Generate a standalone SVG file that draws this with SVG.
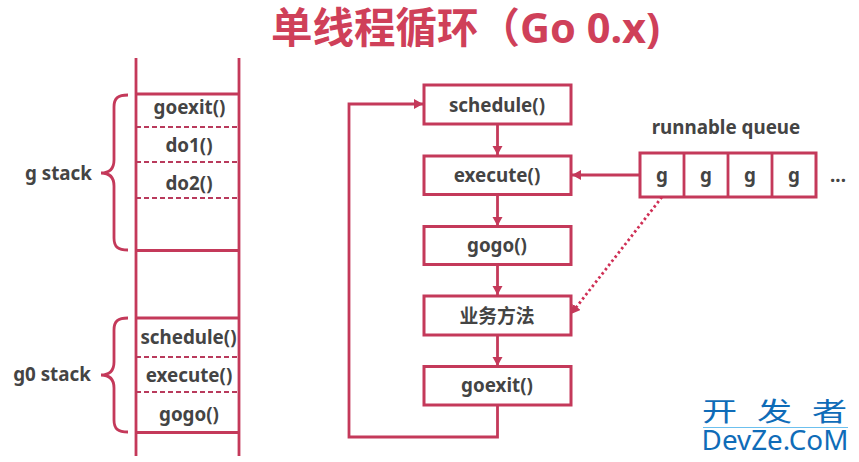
<svg xmlns="http://www.w3.org/2000/svg" width="859" height="462" viewBox="0 0 859 462">
<defs>
<marker id="ah" markerUnits="userSpaceOnUse" markerWidth="12" markerHeight="12" refX="9" refY="5" orient="auto"><path d="M0,0L9,5L0,10Z" fill="#c4395a"/></marker>
</defs>
<style>
.ln{fill:none;stroke:#c4395a;stroke-width:2.8}
.ds{fill:none;stroke:#b93a5c;stroke-width:1.8;stroke-dasharray:5 3}
.bx{fill:#fff;stroke:#c4395a;stroke-width:3}
.t{font-family:"Noto Sans","Noto Sans CJK SC",sans-serif;font-weight:700;font-size:18.800px;fill:#444;text-anchor:middle}
.wm{font-family:"Noto Sans","Noto Sans CJK SC",sans-serif;fill:#0f6cb8}
</style>
<rect width="859" height="462" fill="#fff"/>
<text x="465.500" y="43" text-anchor="middle" style="font-family:'Noto Sans','Noto Sans CJK SC',sans-serif;font-weight:700;font-size:41.500px;fill:#cf4059">单线程循环（Go 0.x)</text>
<g id="stack">
<path class="ln" d="M136,58V456M239,58V456M136,94H239M136,250.500H239M136,318H239M136,432.500H239"/>
<path class="ds" d="M136,127H239M136,162H239M136,198H239M136,357H239M136,392H239"/>
<text class="t" x="189.500" y="114">goexit()</text>
<text class="t" x="189" y="152">do1()</text>
<text class="t" x="189" y="190">do2()</text>
<text class="t" x="188.500" y="344">schedule()</text>
<text class="t" x="189" y="382">execute()</text>
<text class="t" x="189" y="421">gogo()</text>
</g>
<g id="g-stack">
<path class="ln" d="M128,95C118,95 114,98 114,107V160C114,168 110,173 101,173C110,173 114,178 114,186V238C114,247 118,250 128,250"/>
<text class="t" x="58.500" y="180">g stack</text>
</g>
<g id="g0-stack">
<path class="ln" d="M128,318C118,318 114,321 114,330V362C114,370 110,375 101,375C110,375 114,380 114,388V420C114,429 118,432 128,432"/>
<text class="t" x="52" y="381">g0 stack</text>
</g>
<g id="schedule"><rect class="bx" x="424" y="85" width="147" height="39"/><text class="t" x="497" y="112">schedule()</text></g>
<g id="execute"><rect class="bx" x="424" y="156" width="147" height="38.500"/><text class="t" x="497" y="182">execute()</text></g>
<g id="gogo"><rect class="bx" x="424" y="226.500" width="147" height="38"/><text class="t" x="497" y="252">gogo()</text></g>
<g id="biz"><rect class="bx" x="424" y="296" width="147" height="39"/><text class="t" x="497" y="323">业务方法</text></g>
<g id="goexit"><rect class="bx" x="424" y="366.500" width="147" height="38.500"/><text class="t" x="497" y="392">goexit()</text></g>
<g id="queue">
<text class="t" x="726" y="134">runnable queue</text>
<rect class="bx" x="640" y="153" width="176" height="44"/>
<path class="ln" d="M684,153V197M728,153V197M772,153V197"/>
<text class="t" x="662" y="182">g</text><text class="t" x="706" y="182">g</text><text class="t" x="750" y="182">g</text><text class="t" x="794" y="182">g</text>
<text class="t" x="838" y="182">...</text>
</g>
<g id="connectors">
<path class="ln" marker-end="url(#ah)" d="M497.500,124V155"/>
<path class="ln" marker-end="url(#ah)" d="M497.500,195V226"/>
<path class="ln" marker-end="url(#ah)" d="M497.500,265V295"/>
<path class="ln" marker-end="url(#ah)" d="M497.500,335V366"/>
<path class="ln" marker-end="url(#ah)" d="M497.500,405V437H349V104H423"/>
<path class="ln" marker-end="url(#ah)" d="M640,175H572"/>
<path fill="none" stroke="#cf2f55" stroke-width="2.800" stroke-dasharray="2.500 2.800" marker-end="url(#ah)" d="M662,197L571,314"/>
</g>
<g id="watermark">
<text class="wm" transform="translate(702,421) scale(1.35,1)" x="0 40.700 81.400" style="font-size:26px">开发者</text>
<path d="M703,427.500H848" stroke="#6cc0ee" stroke-width="1"/>
<text class="wm" x="775" y="450" text-anchor="middle" style="font-size:27.800px">DevZe.CoM</text>
</g>
</svg>
